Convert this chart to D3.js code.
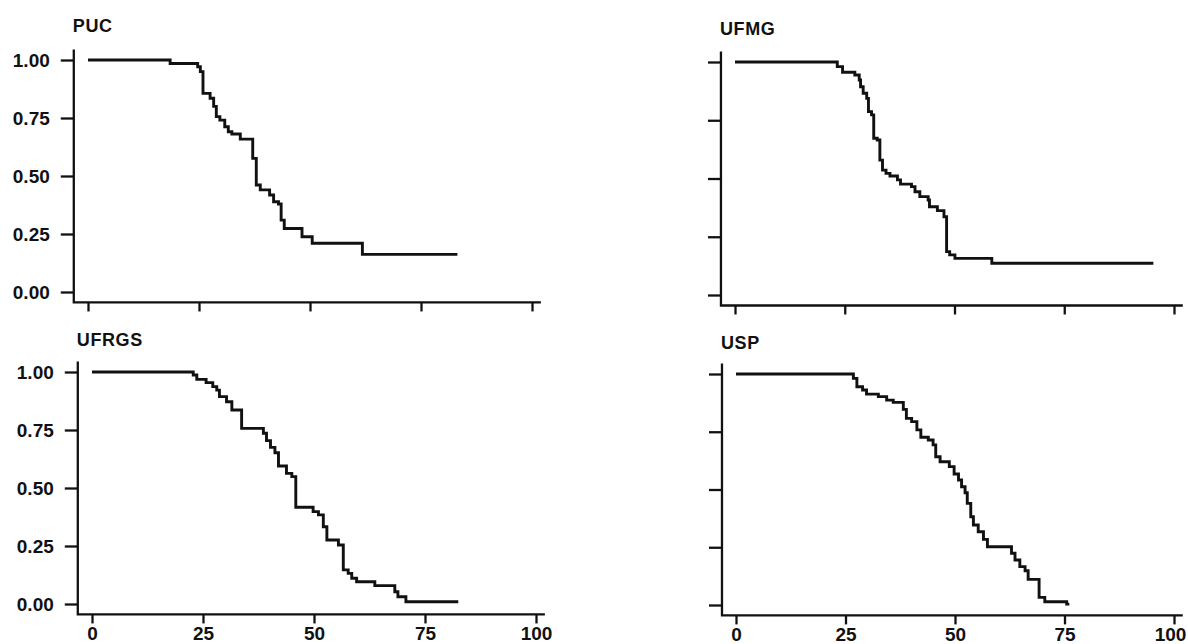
<!DOCTYPE html>
<html>
<head>
<meta charset="utf-8">
<script src="https://cdn.jsdelivr.net/npm/d3@7"></script>
<style>
  body { margin: 0; background: #fff; }
  svg { display: block; }
  text { font-family: "Liberation Sans", Arial, sans-serif; font-weight: bold; fill: #111; }
</style>
</head>
<body>
<svg width="1188" height="644"></svg>
<script>
// survival step data: time at which the curve drops, value after the drop
const pucTime = [0, 18.5, 24.7, 25.3, 25.9, 27.5, 28.3, 28.9, 29.7, 30.8, 31.6, 32.4, 34.3, 37.1, 37.9, 38.8, 40.9, 41.8, 42.9, 43.5, 44.2, 48.2, 50.5, 61.8];
const pucSurv = [1, 0.985, 0.971, 0.950, 0.856, 0.835, 0.800, 0.756, 0.741, 0.712, 0.691, 0.681, 0.659, 0.576, 0.461, 0.440, 0.418, 0.389, 0.379, 0.310, 0.274, 0.238, 0.210, 0.162];
const pucEnd = 83.2;

const ufmgTime = [0, 23.3, 24.5, 27.3, 28.3, 28.6, 29.2, 30.0, 30.4, 31.1, 31.6, 32.4, 33.0, 33.6, 34.4, 35.3, 37.0, 37.7, 40.2, 41.0, 42.1, 44.0, 44.3, 46.1, 47.6, 48.2, 48.9, 50.1, 58.5];
const ufmgSurv = [1, 0.980, 0.956, 0.944, 0.923, 0.894, 0.866, 0.844, 0.787, 0.773, 0.673, 0.665, 0.579, 0.536, 0.522, 0.511, 0.494, 0.476, 0.465, 0.443, 0.422, 0.408, 0.379, 0.362, 0.336, 0.186, 0.172, 0.157, 0.136];
const ufmgEnd = 95.3;

const ufrgsTime = [0, 22.8, 23.6, 25.7, 27.2, 28.1, 28.7, 30.3, 31.5, 33.7, 38.6, 39.3, 40.2, 41.2, 42.0, 43.8, 45.0, 45.9, 49.8, 51.0, 52.1, 52.9, 55.5, 56.6, 57.7, 58.5, 59.6, 63.7, 68.2, 68.9, 70.7];
const ufrgsSurv = [1, 0.987, 0.968, 0.954, 0.937, 0.922, 0.894, 0.872, 0.836, 0.757, 0.736, 0.704, 0.675, 0.652, 0.595, 0.563, 0.549, 0.417, 0.398, 0.384, 0.333, 0.276, 0.254, 0.147, 0.132, 0.111, 0.096, 0.079, 0.053, 0.031, 0.010];
const ufrgsEnd = 82.5;

const uspTime = [0, 26.8, 27.6, 28.9, 29.8, 32.5, 34.4, 35.9, 38.2, 38.9, 40.1, 41.3, 42.2, 43.9, 45.0, 45.6, 46.6, 48.7, 49.8, 50.8, 51.5, 52.3, 52.8, 53.6, 54.2, 55.3, 56.5, 57.4, 62.9, 63.7, 64.8, 66.0, 66.7, 69.2, 70.5, 75.5];
const uspSurv = [1, 0.981, 0.945, 0.931, 0.913, 0.902, 0.887, 0.877, 0.847, 0.808, 0.794, 0.758, 0.726, 0.714, 0.693, 0.642, 0.620, 0.599, 0.567, 0.541, 0.512, 0.486, 0.440, 0.382, 0.346, 0.317, 0.284, 0.252, 0.224, 0.195, 0.166, 0.148, 0.111, 0.033, 0.014, 0.004];
const uspEnd = 76.1;

const xTicks = [0, 25, 50, 75, 100];
const yTicks = [0, 0.25, 0.5, 0.75, 1];

const panels = [
  { name: 'PUC', time: pucTime, surv: pucSurv, end: pucEnd, px: [88, 532], py: [292, 60], yLabels: true, xLabels: false, titleY: 32 },
  { name: 'UFMG', time: ufmgTime, surv: ufmgSurv, end: ufmgEnd, px: [735, 1174], py: [295, 62], yLabels: false, xLabels: false, titleY: 35 },
  { name: 'UFRGS', time: ufrgsTime, surv: ufrgsSurv, end: ufrgsEnd, px: [92, 536], py: [604, 372], yLabels: true, xLabels: true, titleY: 346 },
  { name: 'USP', time: uspTime, surv: uspSurv, end: uspEnd, px: [736, 1174], py: [605, 374], yLabels: false, xLabels: true, titleY: 349 }
];

const svg = d3.select('svg');

panels.forEach((p) => {
  const x = d3.scaleLinear().domain([0, 100]).range(p.px);
  const y = d3.scaleLinear().domain([0, 1]).range(p.py);
  const g = svg.append('g');

  const axisX = x(-3.2);
  const axisY = y(-0.045);

  // L shaped frame
  g.append('path')
    .attr('d', `M${axisX},${y(1.045)} L${axisX},${axisY} L${x(102)},${axisY}`)
    .attr('fill', 'none')
    .attr('stroke', '#111')
    .attr('stroke-width', 2.3);

  // y axis ticks
  const yAxis = d3.axisLeft(y).tickValues(yTicks).tickSize(13).tickPadding(11)
    .tickFormat(p.yLabels ? d3.format('.2f') : '');
  g.append('g')
    .attr('transform', `translate(${axisX},0)`)
    .call(yAxis)
    .call((a) => a.select('.domain').remove())
    .call((a) => a.selectAll('line').attr('stroke', '#111').attr('stroke-width', 2.3))
    .call((a) => a.selectAll('text').attr('font-size', 19).attr('font-family', null).attr('fill', '#111'));

  // x axis ticks
  const xAxis = d3.axisBottom(x).tickValues(xTicks).tickSize(9).tickPadding(3)
    .tickFormat(p.xLabels ? d3.format('d') : '');
  g.append('g')
    .attr('transform', `translate(0,${axisY})`)
    .call(xAxis)
    .call((a) => a.select('.domain').remove())
    .call((a) => a.selectAll('line').attr('stroke', '#111').attr('stroke-width', 2.3))
    .call((a) => a.selectAll('text').attr('font-size', 19).attr('font-family', null).attr('fill', '#111')
      .attr('dx', (d) => (x(d) + 17 > 1188 ? -4 : 0)));

  // title
  g.append('text')
    .attr('x', axisX - 1)
    .attr('y', p.titleY)
    .attr('font-size', 18)
    .attr('letter-spacing', 0.6)
    .text(p.name);

  // survival curve
  const pts = p.time.map((t, i) => [t, p.surv[i]]);
  pts.push([p.end, p.surv[p.surv.length - 1]]);
  const line = d3.line()
    .x((d) => x(d[0]))
    .y((d) => y(d[1]))
    .curve(d3.curveStepAfter);
  g.append('path')
    .datum(pts)
    .attr('d', line)
    .attr('fill', 'none')
    .attr('stroke', '#111')
    .attr('stroke-width', 2.9);
});
</script>
</body>
</html>
